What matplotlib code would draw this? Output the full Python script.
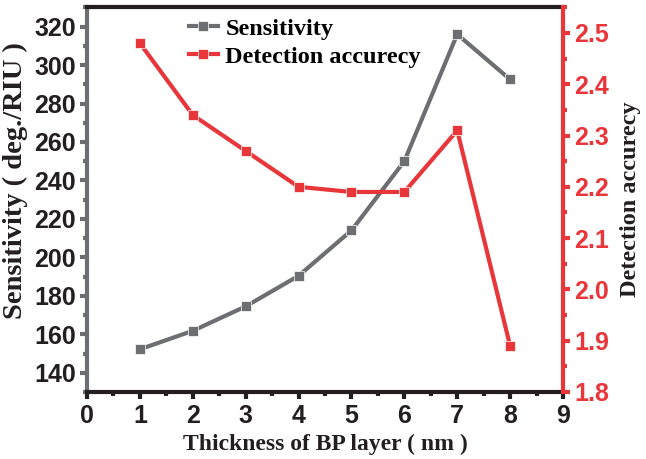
import matplotlib.pyplot as plt
from matplotlib.ticker import MultipleLocator

thickness = [1, 2, 3, 4, 5, 6, 7, 8]
sensitivity = [152.2, 161.8, 174.5, 190.4, 214.0, 250.0, 316.0, 292.5]
detection = [2.48, 2.34, 2.27, 2.20, 2.19, 2.19, 2.31, 1.89]

gray = '#6d6e71'
red = '#e8363b'
dark = '#231f20'
tick_font = {'family': 'Liberation Sans', 'weight': 'bold', 'size': 18}

fig = plt.figure(figsize=(6.46, 4.59), dpi=100)
ax = fig.add_axes([0.1347, 0.146, 0.7368, 0.838])
ax2 = ax.twinx()

l1, = ax.plot(thickness, sensitivity, '-s', color=gray, lw=3, ms=7,
              markeredgecolor='white', markeredgewidth=0.5)
l2, = ax2.plot(thickness, detection, '-s', color=red, lw=3, ms=7,
               markeredgecolor='white', markeredgewidth=0.5)

ax.set_xlim(0, 9)
ax.set_ylim(130, 330)
ax2.set_ylim(1.8, 2.55)

ax.xaxis.set_major_locator(MultipleLocator(1))
ax.xaxis.set_minor_locator(MultipleLocator(0.5))
ax.yaxis.set_major_locator(MultipleLocator(20))
ax.yaxis.set_minor_locator(MultipleLocator(10))
ax2.yaxis.set_major_locator(MultipleLocator(0.1))
ax2.yaxis.set_minor_locator(MultipleLocator(0.05))

for s in ['top', 'bottom']:
    ax.spines[s].set_linewidth(3)
    ax.spines[s].set_color(dark)
ax.spines['left'].set_linewidth(3)
ax.spines['left'].set_color(gray)
ax2.spines['right'].set_linewidth(3)
ax2.spines['right'].set_color(red)
for s in ['top', 'bottom', 'left']:
    ax2.spines[s].set_visible(False)

ax.tick_params(axis='x', which='major', length=5, width=3, color=dark, pad=4)
ax.tick_params(axis='x', which='minor', length=3, width=3, color=dark)
ax.tick_params(axis='y', which='major', length=5, width=3, color=gray, pad=3)
ax.tick_params(axis='y', which='minor', length=3, width=3, color=gray)
ax2.tick_params(axis='y', which='major', length=5, width=3, color=red, pad=3)
ax2.tick_params(axis='y', which='minor', length=3, width=3, color=red)

for lab in ax.get_xticklabels() + ax.get_yticklabels():
    lab.set_fontproperties(tick_font)
    lab.set_color(dark)
for lab in ax2.get_yticklabels():
    lab.set_fontproperties(tick_font)
    lab.set_color(red)

ax.set_xlabel('Thickness of BP layer ( nm )', family='Liberation Serif',
              weight='bold', size=17, labelpad=4, color=dark)
ax.set_ylabel('Sensitivity ( deg./RIU )', family='Liberation Serif',
              weight='bold', size=20.5, color=dark)
ax.yaxis.set_label_coords(-0.125, 0.55)
ax2.set_ylabel('Detection accurecy', family='Liberation Serif',
               weight='bold', size=17.5, labelpad=8, color=dark)

ax.legend([l1, l2], ['Sensitivity', 'Detection accurecy'], loc='upper left',
          bbox_to_anchor=(0.168, 1.03), frameon=False, handlelength=1.2,
          handletextpad=0.3, labelspacing=0.25,
          prop={'family': 'Liberation Serif', 'weight': 'bold', 'size': 17.5})

plt.savefig('out.png', dpi=100)
